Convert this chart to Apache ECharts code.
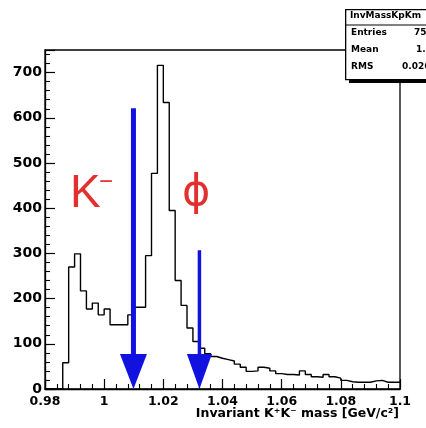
<!DOCTYPE html>
<html>
<head>
<meta charset="utf-8">
<script src="https://cdn.jsdelivr.net/npm/echarts@6/dist/echarts.min.js"></script>
<style>
html,body{margin:0;padding:0;background:#fff;}
#chart{width:426px;height:428px;}
</style>
</head>
<body>
<div id="chart"></div>
<script>
// Histogram definition
const binLow = 0.98;
const binWidth = 0.002;
const counts = [
  0, 0, 0, 58, 270, 299, 217, 177, 190, 164,
  177, 142, 142, 142, 164, 181, 181, 295, 477, 716,
  634, 395, 240, 185, 135, 105, 90, 78, 72, 68,
  65, 62, 55, 48, 39, 40, 48, 46, 40, 34,
  32, 32, 31, 40, 32, 27, 26, 32, 27, 24,
  19, 16, 15, 15, 15, 18, 19, 15, 15, 15
];
// Arrows: x position and top value
const arrowX = [1.0099, 1.0322];
const arrowTop = [621, 307];
const arrowShaft = [5, 3.5];
const arrowHalfHead = [13.5, 12.5];
// Axis ticks
const xTicks = [0.98, 1.0, 1.02, 1.04, 1.06, 1.08, 1.1];
const yTicks = [0, 100, 200, 300, 400, 500, 600, 700];
// Stats box text
const statsTitle = 'InvMassKpKm';
const statsNames = ['Entries', 'Mean', 'RMS'];
const statsValues = ['7543', '1.03', '0.02663'];

const histData = counts.map((c, i) => [+(binLow + i * binWidth).toFixed(3), c]);
histData.push([+(binLow + counts.length * binWidth).toFixed(3), counts[counts.length - 1]]);

const chart = echarts.init(document.getElementById('chart'), null, {renderer: 'canvas'});

const axisFont = {fontFamily: 'DejaVu Sans', fontWeight: 'bold', color: '#000'};

const option = {
  animation: false,
  backgroundColor: '#fff',
  grid: {left: 45, right: 26, top: 50, bottom: 39, show: true, borderColor: '#000', borderWidth: 1.3, backgroundColor: 'transparent'},
  xAxis: {
    type: 'value', min: xTicks[0], max: xTicks[xTicks.length - 1], interval: 0.02,
    axisLine: {show: true, lineStyle: {color: '#000', width: 1.3}},
    axisTick: {show: true, inside: true, length: 10, lineStyle: {color: '#000', width: 1.2}},
    minorTick: {show: true, splitNumber: 5, length: 5, lineStyle: {color: '#000', width: 1.1}},
    splitLine: {show: false},
    axisLabel: Object.assign({fontSize: 12.5, margin: 6, formatter: v => String(+(+v).toFixed(2))}, axisFont)
  },
  yAxis: {
    type: 'value', min: 0, max: 750, interval: 100,
    axisLine: {show: true, lineStyle: {color: '#000', width: 1.3}},
    axisTick: {show: true, inside: true, length: 10, lineStyle: {color: '#000', width: 1.2}},
    minorTick: {show: true, splitNumber: 5, length: 5, lineStyle: {color: '#000', width: 1.1}},
    splitLine: {show: false},
    axisLabel: Object.assign({fontSize: 14, margin: 3, showMaxLabel: false,
      formatter: v => (yTicks.indexOf(+v) >= 0 ? String(v) : '')}, axisFont)
  },
  series: [
    {
      type: 'line', step: 'end', data: histData, symbol: 'none', z: 2,
      lineStyle: {color: '#000', width: 1.4}, clip: true
    },
    {
      type: 'custom', z: 5, clip: false,
      data: arrowX.map((x, i) => [x, arrowTop[i], i]),
      renderItem: function (params, api) {
        const i = api.value(2);
        const top = api.coord([api.value(0), api.value(1)]);
        const base = api.coord([api.value(0), 0]);
        const headH = 35;
        const sw = arrowShaft[i], hw = arrowHalfHead[i];
        return {
          type: 'group',
          children: [
            {type: 'rect', shape: {x: top[0] - sw / 2, y: top[1], width: sw, height: base[1] - headH - top[1] + 1},
             style: {fill: '#1212e0'}},
            {type: 'polygon', shape: {points: [[top[0] - hw, base[1] - headH], [top[0] + hw, base[1] - headH], [top[0], base[1]]]},
             style: {fill: '#1212e0'}}
          ]
        };
      }
    }
  ],
  graphic: [
    {type: 'text', left: 70, top: 171, style: {text: 'K', font: '46px "Liberation Sans"', fill: '#e23030'}},
    {type: 'text', left: 99, top: 170, style: {text: '−', font: '24px "Liberation Sans"', fill: '#e23030'}},
    {type: 'text', left: 182, top: 172, style: {text: 'ϕ', font: '43px "DejaVu Sans"', fill: '#e23030'}},
    {type: 'text', right: 27, top: 407, style: {text: 'Invariant K⁺K⁻ mass [GeV/c²]', font: 'bold 12.5px "DejaVu Sans"', fill: '#000'}},
    // stats box
    {type: 'rect', left: 349, top: 13, shape: {width: 100, height: 70}, style: {fill: '#000'}, z: 10},
    {type: 'rect', left: 345, top: 9, shape: {width: 100, height: 70}, style: {fill: '#fff', stroke: '#000', lineWidth: 1.3}, z: 11},
    {type: 'line', shape: {x1: 345, y1: 25, x2: 426, y2: 25}, style: {stroke: '#000', lineWidth: 1}, z: 12},
    {type: 'text', left: 350, top: 11, style: {text: statsTitle, font: 'bold 9px "DejaVu Sans"', fill: '#000'}, z: 12},
    {type: 'text', left: 351, top: 28, style: {text: statsNames[0], font: 'bold 9px "DejaVu Sans"', fill: '#000'}, z: 12},
    {type: 'text', left: 351, top: 45, style: {text: statsNames[1], font: 'bold 9px "DejaVu Sans"', fill: '#000'}, z: 12},
    {type: 'text', left: 351, top: 62, style: {text: statsNames[2], font: 'bold 9px "DejaVu Sans"', fill: '#000'}, z: 12},
    {type: 'text', left: 414, top: 28, style: {text: statsValues[0], font: 'bold 9px "DejaVu Sans"', fill: '#000'}, z: 12},
    {type: 'text', left: 416, top: 45, style: {text: statsValues[1], font: 'bold 9px "DejaVu Sans"', fill: '#000'}, z: 12},
    {type: 'text', left: 402, top: 62, style: {text: statsValues[2], font: 'bold 9px "DejaVu Sans"', fill: '#000'}, z: 12}
  ]
};
chart.setOption(option);
</script>
</body>
</html>
